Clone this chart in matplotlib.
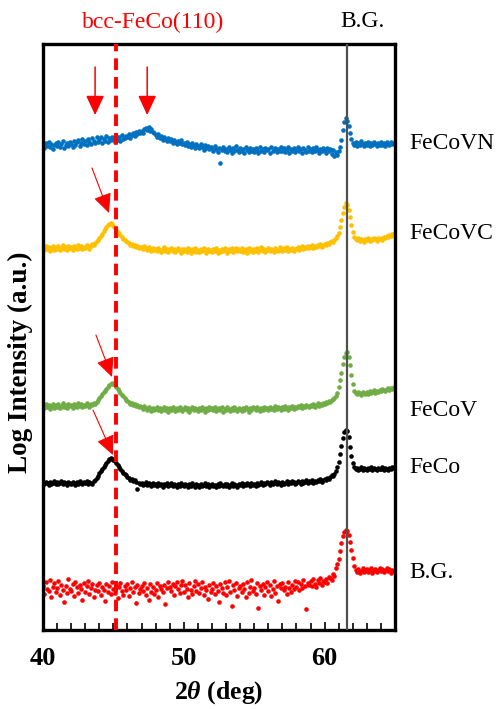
import numpy as np
import matplotlib.pyplot as plt

# font
plt.rcParams["font.family"] = ["Liberation Serif", "DejaVu Serif"]
plt.rcParams["mathtext.fontset"] = "custom"
plt.rcParams["mathtext.rm"] = "Liberation Serif:bold"
plt.rcParams["mathtext.it"] = "Liberation Serif:italic:bold"
plt.rcParams["mathtext.bf"] = "Liberation Serif:bold"

# data: 2theta grid (deg, 0.1 step) and offset log intensity (a.u.) per sample
two_theta = np.round(np.arange(40.0, 65.01, 0.1), 1)

fecovn = [
    485, 482, 487, 484, 488, 483, 486, 481, 485, 487,
    484, 488, 483, 486, 489, 482, 485, 487, 484, 488,
    486, 483, 489, 485, 488, 490, 484, 487, 491, 486,
    489, 485, 491, 488, 486, 492, 489, 487, 493, 488,
    490, 493, 487, 491, 489, 494, 488, 492, 490, 493,
    491, 488, 494, 490, 493, 489, 495, 491, 492, 494,
    493, 496, 492, 495, 497, 494, 498, 496, 499, 497,
    499, 497, 501, 502, 500, 503, 499, 501, 498, 497,
    495, 493, 496, 492, 494, 490, 493, 491, 489, 492,
    489, 491, 487, 490, 488, 486, 489, 487, 490, 486,
    487, 485, 488, 484, 486, 483, 487, 485, 482, 486,
    484, 482, 486, 483, 480, 485, 482, 484, 481, 483,
    482, 479, 484, 481, 478, 482, 467, 480, 483, 479,
    481, 478, 483, 480, 477, 482, 479, 484, 480, 478,
    482, 479, 481, 477, 483, 480, 478, 482, 479, 481,
    478, 482, 480, 477, 483, 479, 481, 478, 482, 480,
    481, 477, 483, 479, 480, 482, 478, 481, 479, 483,
    479, 482, 478, 480, 483, 477, 481, 479, 482, 478,
    480, 483, 479, 481, 477, 482, 480, 478, 483, 479,
    481, 478, 482, 479, 483, 480, 477, 481, 479, 482,
    480, 477, 482, 479, 481, 476, 480, 474, 478, 475,
    479, 483, 490, 500, 508, 512, 509, 504, 497, 491,
    487, 485, 488, 484, 487, 485, 489, 486, 484, 487,
    485, 488, 484, 487, 485, 488, 486, 484, 487, 485,
    488, 485, 487, 484, 488, 486, 485, 488, 486, 487,
    486,
]
fecovc = [
    382, 380, 384, 381, 383, 379, 382, 384, 380, 383,
    381, 384, 380, 382, 385, 381, 383, 380, 384, 382,
    383, 380, 384, 382, 381, 385, 382, 384, 381, 383,
    382, 385, 383, 381, 384, 386, 385, 387, 389, 390,
    392, 394, 396, 399, 401, 403, 405, 406, 407, 406,
    404, 402, 400, 398, 396, 395, 393, 391, 390, 389,
    388, 387, 385, 386, 384, 385, 383, 384, 382, 383,
    383, 381, 384, 382, 380, 383, 381, 379, 382, 380,
    381, 379, 382, 380, 378, 381, 383, 379, 381, 378,
    380, 382, 379, 381, 378, 380, 382, 379, 377, 381,
    379, 381, 378, 382, 380, 377, 381, 379, 382, 378,
    380, 378, 381, 379, 382, 380, 377, 381, 379, 380,
    378, 381, 379, 382, 377, 380, 378, 381, 379, 382,
    380, 377, 381, 379, 382, 378, 380, 382, 379, 381,
    379, 382, 378, 380, 381, 377, 382, 379, 381, 378,
    381, 379, 382, 378, 380, 383, 379, 381, 378, 380,
    382, 379, 381, 380, 378, 382, 380, 379, 383, 380,
    379, 382, 380, 383, 379, 381, 380, 382, 379, 381,
    381, 383, 380, 382, 384, 381, 383, 382, 384, 382,
    383, 385, 382, 384, 383, 385, 384, 386, 383, 385,
    386, 385, 387, 386, 388, 389, 388, 390, 392, 394,
    397, 403, 410, 417, 423, 427, 425, 420, 413, 405,
    398, 393, 391, 390, 392, 389, 391, 390, 388, 391,
    390, 392, 389, 391, 390, 392, 391, 389, 392, 391,
    392, 390, 393, 392, 394, 393, 395, 394, 396, 395,
    397,
]
fecov = [
    224, 222, 226, 223, 225, 221, 224, 226, 222, 225,
    223, 226, 222, 224, 227, 223, 225, 222, 226, 224,
    225, 222, 226, 224, 223, 227, 224, 226, 223, 225,
    224, 227, 225, 223, 226, 225, 227, 226, 228, 230,
    232, 234, 236, 238, 239, 241, 243, 245, 246, 247,
    246, 245, 243, 241, 239, 237, 235, 234, 232, 230,
    229, 228, 226, 227, 225, 226, 224, 225, 223, 224,
    223, 221, 224, 222, 220, 223, 221, 219, 222, 220,
    221, 223, 220, 222, 219, 221, 223, 220, 222, 218,
    222, 220, 223, 221, 219, 222, 220, 223, 221, 219,
    221, 223, 220, 222, 218, 221, 223, 220, 222, 221,
    219, 222, 220, 223, 221, 218, 222, 220, 223, 221,
    222, 220, 223, 219, 221, 222, 220, 223, 218, 221,
    220, 223, 221, 219, 222, 220, 223, 221, 219, 222,
    221, 219, 222, 220, 223, 221, 218, 222, 220, 223,
    222, 220, 223, 221, 219, 222, 220, 223, 221, 222,
    220, 223, 221, 222, 220, 224, 221, 223, 222, 220,
    223, 221, 224, 222, 220, 223, 222, 224, 221, 223,
    222, 224, 223, 225, 222, 224, 223, 225, 224, 223,
    225, 224, 226, 223, 225, 227, 224, 226, 225, 227,
    226, 228, 227, 229, 228, 230, 231, 232, 234, 237,
    243, 250, 257, 266, 273, 277, 278, 273, 265, 255,
    246, 239, 237, 236, 238, 237, 235, 238, 237, 236,
    238, 236, 239, 237, 238, 240, 237, 239, 238, 240,
    239, 241, 240, 239, 241, 242, 240, 242, 241, 243,
    242,
]
feco = [
    147, 146, 148, 147, 145, 148, 146, 147, 149, 146,
    148, 146, 147, 149, 146, 148, 147, 145, 148, 147,
    146, 148, 147, 145, 148, 146, 149, 147, 146, 148,
    147, 149, 146, 148, 147, 146, 149, 150, 152, 154,
    157, 159, 161, 163, 165, 167, 169, 171, 172, 171,
    170, 169, 167, 165, 163, 161, 159, 157, 156, 155,
    153, 152, 150, 151, 149, 150, 148, 141, 147, 146,
    147, 145, 146, 148, 145, 147, 146, 144, 147, 145,
    146, 144, 147, 145, 146, 143, 146, 145, 147, 144,
    145, 147, 144, 146, 145, 143, 146, 144, 147, 145,
    144, 146, 145, 143, 146, 144, 147, 145, 143, 146,
    145, 143, 146, 144, 145, 147, 144, 146, 143, 145,
    146, 144, 145, 143, 146, 144, 147, 145, 144, 146,
    144, 146, 143, 145, 147, 144, 146, 145, 143, 146,
    145, 147, 144, 146, 145, 147, 146, 144, 147, 145,
    146, 144, 147, 145, 146, 148, 145, 147, 146, 148,
    147, 145, 148, 146, 147, 149, 146, 148, 147, 145,
    148, 146, 147, 149, 146, 148, 147, 149, 148, 146,
    147, 149, 148, 146, 149, 147, 148, 150, 147, 149,
    148, 150, 147, 149, 148, 150, 149, 151, 148, 150,
    151, 150, 152, 151, 153, 155, 154, 156, 159, 163,
    168, 176, 184, 192, 198, 200, 199, 193, 183, 174,
    167, 163, 161, 162, 160, 161, 163, 160, 162, 161,
    160, 162, 161, 163, 160, 162, 161, 160, 162, 161,
    161, 163, 160, 162, 161, 160, 162, 161, 163, 162,
    162,
]
bg = [
    44, 36, 48, 41, 39, 50, 33, 43, 47, 38,
    42, 49, 35, 45, 40, 28, 44, 37, 51, 41,
    39, 46, 34, 48, 43, 37, 45, 41, 30, 47,
    38, 44, 49, 36, 42, 46, 33, 40, 45, 39,
    47, 35, 43, 40, 29, 46, 38, 44, 36, 48,
    41, 37, 45, 32, 43, 47, 39, 35, 44, 40,
    46, 34, 42, 48, 38, 43, 27, 45, 37, 41,
    44, 39, 47, 35, 42, 30, 46, 38, 43, 36,
    40, 47, 33, 44, 41, 38, 45, 26, 42, 48,
    43, 39, 46, 35, 44, 48, 41, 37, 45, 49,
    38, 45, 41, 33, 47, 40, 36, 44, 49, 39,
    46, 37, 42, 48, 35, 43, 40, 31, 45, 38,
    41, 47, 36, 44, 39, 28, 46, 42, 37, 48,
    35, 43, 49, 38, 24, 45, 40, 47, 34, 42,
    44, 38, 46, 41, 33, 48, 37, 43, 50, 39,
    42, 36, 47, 22, 44, 40, 46, 35, 43, 48,
    39, 45, 34, 41, 49, 37, 44, 29, 46, 42,
    47, 40, 43, 36, 48, 42, 38, 45, 41, 49,
    43, 48, 40, 46, 42, 50, 44, 21, 47, 45,
    49, 44, 51, 46, 43, 50, 47, 52, 45, 49,
    48, 51, 47, 53, 52, 50, 56, 54, 62, 66,
    71, 79, 87, 94, 98, 100, 99, 95, 88, 80,
    72, 64, 60, 58, 61, 57, 59, 62, 58, 60,
    61, 58, 60, 62, 57, 59, 61, 58, 60, 62,
    59, 61, 58, 60, 62, 59, 61, 57, 60, 59,
    58,
]

samples = ["FeCoVN", "FeCoVC", "FeCoV", "FeCo", "B.G."]
series = [fecovn, fecovc, fecov, feco, bg]
colors = ["#0070C0", "#FFC000", "#70AD47", "#000000", "#FF0000"]
label_y = [487, 397, 220, 163, 58]

peak_feco110 = 45.15
peak_bg = 61.6

fig = plt.figure(figsize=(5.0, 7.09), dpi=100)
ax = fig.add_axes([0.086, 0.1114, 0.704, 0.8265])

for name, ys, c, ly in zip(samples, series, colors, label_y):
    ax.plot(two_theta, ys, "o", color=c, markersize=3.3, markeredgewidth=0)
    ax.text(66.0, ly, name, fontsize=17, va="center", ha="left", clip_on=False)

ax.axvline(peak_bg, color="#505050", lw=1.6, zorder=3)
ax.axvline(peak_feco110, color="#FF0000", lw=2.8, ls=(0, (3.0, 1.8)), zorder=4)

# arrows
arrow_kw = dict(arrowstyle="-|>,head_length=0.6,head_width=0.28", color="#FF0000",
                lw=1.1, shrinkA=0, shrinkB=0, mutation_scale=20)
for x0 in [43.7, 47.4]:
    ax.annotate("", xy=(x0, 515), xytext=(x0, 563), arrowprops=arrow_kw)
ax.annotate("", xy=(44.69, 417), xytext=(43.48, 462), arrowprops=dict(arrow_kw, lw=0.8))
ax.annotate("", xy=(44.9, 253), xytext=(43.76, 295), arrowprops=dict(arrow_kw, lw=0.8))
ax.annotate("", xy=(44.97, 175), xytext=(43.55, 220), arrowprops=dict(arrow_kw, lw=0.8))

fig.text(0.306, 0.969, "bcc-FeCo(110)", color="#FF0000", fontsize=17, ha="center", va="center")
fig.text(0.724, 0.969, "B.G.", color="black", fontsize=17, ha="center", va="center")

ax.set_xlim(40, 65)
ax.set_ylim(0, 586)
ax.set_xticks([40, 50, 60])
ax.set_xticks(np.arange(40, 66, 1), minor=True)
ax.set_yticks([])
ax.tick_params(axis="x", which="both", direction="in", top=False, width=1.2, pad=12)
ax.tick_params(axis="x", which="major", length=6, labelsize=19)
ax.tick_params(axis="x", which="minor", length=5)
for lab in ax.get_xticklabels():
    lab.set_fontweight("bold")
for sp in ax.spines.values():
    sp.set_linewidth(2.4)

ax.set_xlabel(r"2$\theta$ (deg)", fontsize=18.5, fontweight="bold")
ax.xaxis.set_label_coords(0.5, -0.084)
ax.set_ylabel("Log Intensity (a.u.)", fontsize=19.5, fontweight="bold")
ax.yaxis.set_label_coords(-0.028, 0.457)

plt.savefig("out.png", dpi=100)
